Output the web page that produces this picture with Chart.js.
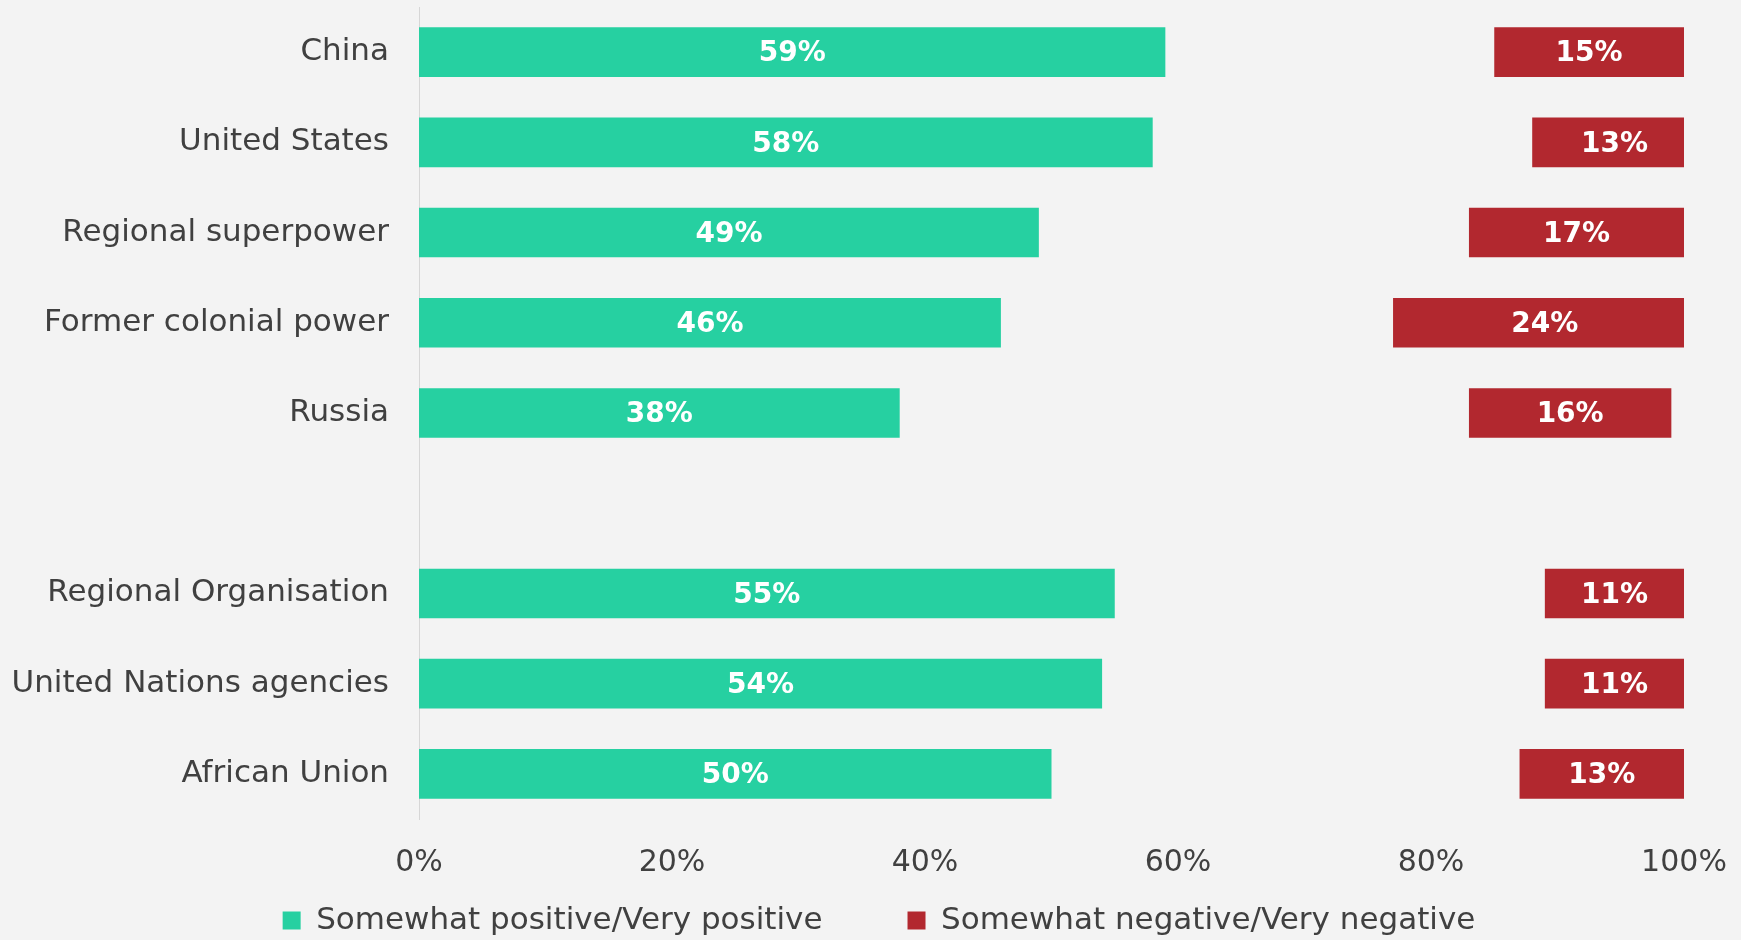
<!DOCTYPE html>
<html>
<head>
<meta charset="utf-8">
<script src="https://cdn.jsdelivr.net/npm/chart.js@4/dist/chart.umd.min.js"></script>
<style>
  html, body { margin: 0; padding: 0; background: #f3f3f3; }
  #wrap { width: 1741px; height: 940px; }
</style>
</head>
<body>
<div id="wrap"><canvas id="chart" width="1741" height="940"></canvas></div>
<script>
// Data
const categories = ['China', 'United States', 'Regional superpower', 'Former colonial power', 'Russia', '',
  'Regional Organisation', 'United Nations agencies', 'African Union'];
const positive = [59, 58, 49, 46, 38, null, 55, 54, 50];
// neutral / don't know share (not shown) - gap between the two coloured bars
const neutral = [26, 30, 34, 31, 45, null, 34, 35, 37];
const negative = [15, 13, 17, 24, 16, null, 11, 11, 13];
const xTicks = [0, 20, 40, 60, 80, 100];

const FONT = '"DejaVu Sans", sans-serif';
const GREEN = '#26d0a1';
const RED = '#b2282f';

// draws the white % labels in the middle of each visible bar
const barLabels = {
  id: 'barLabels',
  afterDatasetsDraw(chart) {
    const ctx = chart.ctx;
    ctx.save();
    ctx.font = 'bold 28px ' + FONT;
    ctx.fillStyle = '#ffffff';
    ctx.textAlign = 'center';
    ctx.textBaseline = 'middle';
    [0, 2].forEach(di => {
      const meta = chart.getDatasetMeta(di);
      meta.data.forEach((bar, i) => {
        const v = chart.data.datasets[di].data[i];
        if (v == null) return;
        const p = bar.getCenterPoint();
        ctx.fillText(v + '%', p.x, p.y + 2);
      });
    });
    ctx.restore();
  }
};

// give the legend more room upwards (it overlaps the empty part under the ticks)
const legendShift = {
  id: 'legendShift',
  afterLayout(chart) {
    const lg = chart.legend;
    if (!lg) return;
    lg.top = chart.height - 120;
    lg.bottom = chart.height;
    lg.height = 120;
    lg.left += 74;
    lg.width = lg.right - lg.left;
  }
};

const ctx = document.getElementById('chart').getContext('2d');
new Chart(ctx, {
  type: 'bar',
  data: {
    labels: categories,
    datasets: [
      { label: 'Somewhat positive/Very positive', data: positive, backgroundColor: GREEN },
      { label: 'neutral', data: neutral, backgroundColor: 'rgba(0,0,0,0)' },
      { label: 'Somewhat negative/Very negative', data: negative, backgroundColor: RED }
    ]
  },
  options: {
    indexAxis: 'y',
    responsive: false,
    animation: false,
    barPercentage: 0.55,
    categoryPercentage: 1,
    layout: { padding: { top: 7, right: 57, bottom: 0, left: 0 } },
    scales: {
      x: {
        stacked: true,
        min: 0,
        max: 100,
        afterBuildTicks(scale) {
          scale.ticks = xTicks.map(v => ({ value: v }));
        },
        afterFit(scale) {
          scale.height = 81;
          scale.paddingLeft = 0;
          scale.paddingRight = 0;
        },
        grid: { display: false, drawTicks: false },
        border: { display: false },
        ticks: {
          padding: 26,
          color: '#404040',
          font: { family: FONT, size: 30 },
          callback: v => v + '%'
        }
      },
      y: {
        stacked: true,
        afterFit(scale) {
          scale.width = 419;
          scale.paddingTop = 0;
          scale.paddingBottom = 0;
        },
        grid: { display: false, drawTicks: false },
        border: { display: true, color: '#d6d6d6', width: 1 },
        ticks: {
          padding: 30,
          color: '#404040',
          font: { family: FONT, size: 31 }
        }
      }
    },
    plugins: {
      legend: {
        position: 'bottom',
        maxHeight: 40,
        labels: {
          filter: item => item.datasetIndex !== 1,
          boxWidth: 18,
          boxHeight: 18,
          padding: 85,
          color: '#404040',
          font: { family: FONT, size: 31 }
        }
      },
      tooltip: { enabled: false }
    }
  },
  plugins: [barLabels, legendShift]
});
</script>
</body>
</html>
